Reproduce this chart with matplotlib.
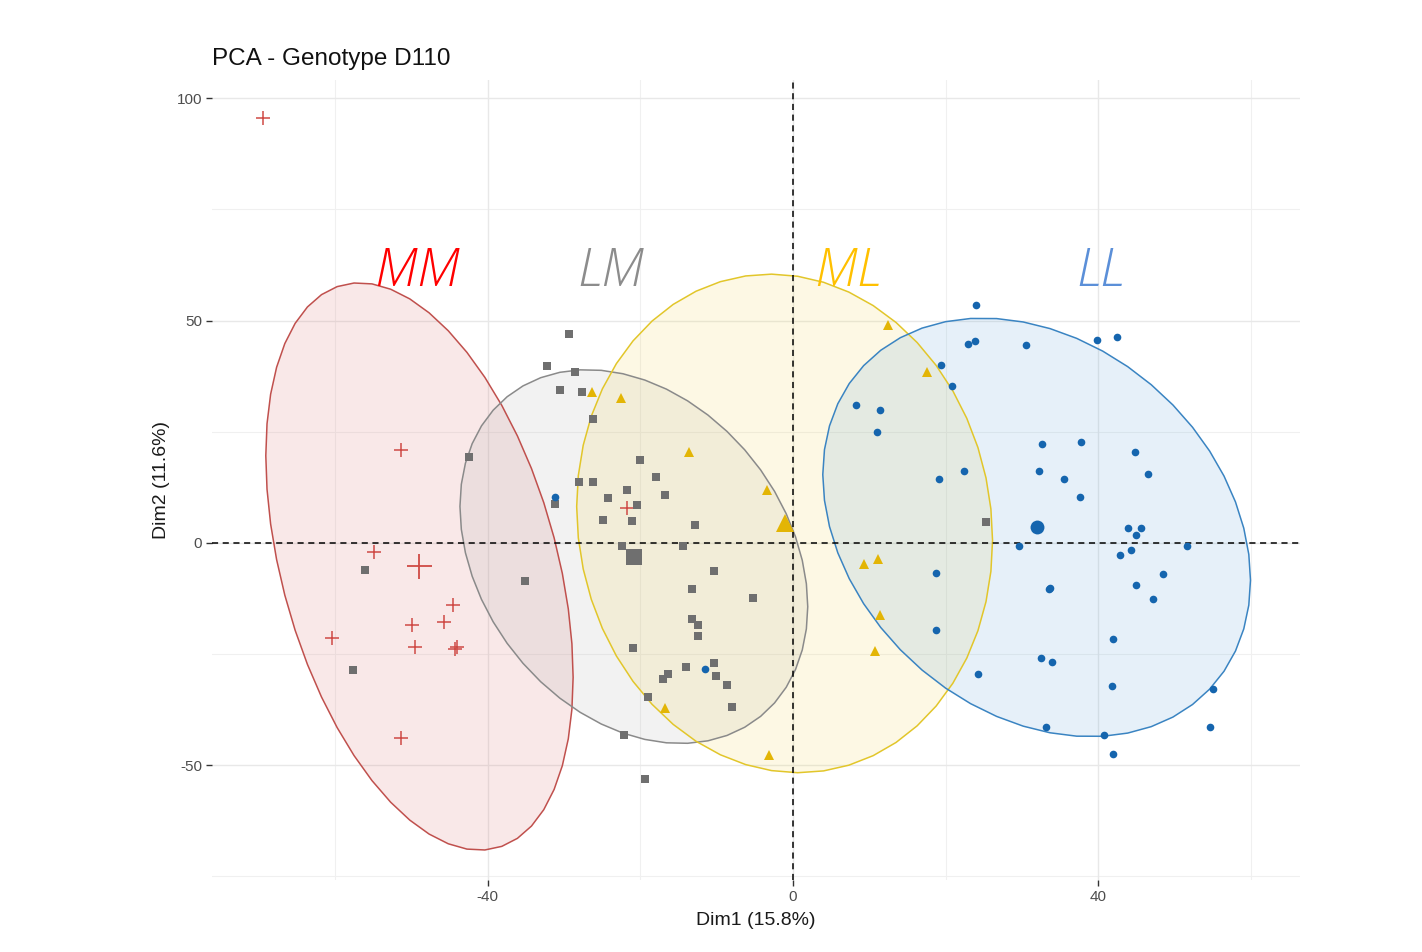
import numpy as np
import matplotlib
matplotlib.use("Agg")
import matplotlib.pyplot as plt
from matplotlib.patches import Polygon

# ---------------- data ----------------
groups = ["MM", "LM", "ML", "LL"]

mm_x = [-69.5, -51.4, -54.9, -44.6, -50.0, -45.7, -60.4, -49.5, -44.0, -44.3, -51.4, -21.8]
mm_y = [95.6, 20.9, -2.0, -13.9, -18.4, -17.8, -21.4, -23.3, -23.5, -23.9, -43.8, 7.9]

lm_x = [-42.5, -56.1, -57.7, -29.4, -32.3, -28.6, -30.5, -27.7, -26.2, -28.1, -26.2, -31.2,
        -24.2, -21.8, -20.4, -24.9, -21.1, -20.0, -18.0, -16.8, -12.9, -22.4, -14.4, -10.3,
        -13.2, -5.3, -13.2, -12.4, -12.4, -21.0, -14.0, -10.3, -10.1, -16.4, -17.1, -8.7,
        -19.0, -8.0, -22.1, -19.4, -35.1, 25.3]
lm_y = [19.4, -6.1, -28.6, 47.0, 39.7, 38.4, 34.4, 34.0, 27.8, 13.6, 13.7, 8.8,
        10.1, 11.8, 8.5, 5.2, 4.9, 18.6, 14.9, 10.7, 4.0, -0.8, -0.8, -6.4,
        -10.4, -12.4, -17.1, -18.5, -21.0, -23.7, -27.8, -27.0, -29.9, -29.5, -30.7, -31.9,
        -34.6, -37.0, -43.2, -53.2, -8.5, 4.7]

ml_x = [-26.3, -22.5, -13.6, -3.4, -16.8, -3.2, 12.4, 17.5, 9.3, 11.2, 11.4, 10.8]
ml_y = [34.0, 32.5, 20.4, 11.9, -37.1, -47.7, 49.0, 38.5, -4.7, -3.7, -16.2, -24.3]

ll_x = [24.0, 22.9, 23.8, 30.5, 19.4, 20.9, 8.2, 11.4, 11.0, 22.4, 19.2, 29.6, 18.7, 18.8,
        24.2, 39.9, 42.4, 32.6, 37.8, 44.8, 32.3, 46.5, 35.5, 37.6, 43.9, 45.6, 45.0, 51.7,
        44.3, 42.9, 48.5, 33.5, 33.7, 45.0, 47.2, 42.0, 32.5, 34.0, 41.8, 55.0, 33.2, 40.8,
        54.6, 42.0, -31.2, -11.5]
ll_y = [53.6, 44.7, 45.4, 44.5, 39.9, 35.3, 31.0, 29.8, 25.0, 16.2, 14.3, -0.8, -6.7, -19.5,
        -29.5, 45.6, 46.3, 22.3, 22.8, 20.4, 16.2, 15.6, 14.3, 10.3, 3.4, 3.4, 1.8, -0.6,
        -1.5, -2.8, -7.0, -10.3, -10.1, -9.4, -12.7, -21.6, -25.8, -26.8, -32.2, -32.8, -41.4, -43.2,
        -41.3, -47.4, 10.4, -28.3]

x_ticks = [-40, 0, 40]
y_ticks = [-50, 0, 50, 100]
title = "PCA - Genotype D110"
x_label = "Dim1 (15.8%)"
y_label = "Dim2 (11.6%)"
ellipse_level = 0.75

# ---------------- styles ----------------
point_colors = {"MM": "#CF4A45", "LM": "#6F6F6F", "ML": "#E3B505", "LL": "#1565AE"}
edge_colors = {"MM": "#C0504D", "LM": "#8A8A8A", "ML": "#E2C62A", "LL": "#3A84C2"}
fill_colors = {"MM": "#D96A6A", "LM": "#A8A8A8", "ML": "#F3D44A", "LL": "#5AA0DA"}
label_colors = {"MM": "#FF0000", "LM": "#8C8C8C", "ML": "#FFC000", "LL": "#5B8FD8"}
markers = {"MM": "+", "LM": "s", "ML": "^", "LL": "o"}
msize = {"MM": 10, "LM": 6, "ML": 6.5, "LL": 5.5}
csize = {"MM": 18, "LM": 11, "ML": 12.5, "LL": 10}
label_pos = {"MM": (-49.2, 61.0), "LM": (-23.9, 61.0), "ML": (7.2, 61.0), "LL": (40.3, 61.0)}

data = {"MM": (mm_x, mm_y), "LM": (lm_x, lm_y), "ML": (ml_x, ml_y), "LL": (ll_x, ll_y)}


def norm_ellipse(x, y, level=0.95, segments=51):
    x = np.asarray(x, float)
    y = np.asarray(y, float)
    n = len(x)
    dfd = n - 1
    center = np.array([x.mean(), y.mean()])
    cov = np.cov(np.vstack([x, y]))
    chol = np.linalg.cholesky(cov).T
    qf = (dfd / 2.0) * ((1 - level) ** (-2.0 / dfd) - 1)
    radius = np.sqrt(2 * qf)
    t = np.linspace(0, 2 * np.pi, segments)
    unit = np.column_stack([np.cos(t), np.sin(t)])
    return center + radius * unit @ chol


fig = plt.figure(figsize=(14.22, 9.52), dpi=100)
ax = fig.add_axes([212 / 1422, 1 - 880 / 952, (1300 - 212) / 1422, (880 - 80) / 952])

ax.set_xlim(-76.15, 66.45)
ax.set_ylim(-75.8, 104.1)

# grid
for v in [-60, -20, 20, 60]:
    ax.axvline(v, color="#F0F0F0", lw=0.8, zorder=0)
for v in [-75, -25, 25, 75]:
    ax.axhline(v, color="#F0F0F0", lw=0.8, zorder=0)
for v in x_ticks:
    ax.axvline(v, color="#E8E8E8", lw=1.0, zorder=0)
for v in y_ticks:
    ax.axhline(v, color="#E8E8E8", lw=1.0, zorder=0)

# ellipses
for g in groups:
    x, y = data[g]
    pts = norm_ellipse(x, y, level=ellipse_level)
    ax.add_patch(Polygon(pts, closed=True, facecolor=fill_colors[g], alpha=0.15,
                         edgecolor="none", zorder=1))
    ax.add_patch(Polygon(pts, closed=True, facecolor="none", edgecolor=edge_colors[g],
                         lw=1.1, zorder=2))

ax.axhline(0, color="black", lw=1.1, ls=(0, (4, 3)), zorder=3)
ax.axvline(0, color="black", lw=1.1, ls=(0, (4, 3)), zorder=3)

# points and centroids
for g in groups:
    x, y = data[g]
    if markers[g] == "+":
        ax.plot(x, y, ls="none", marker="+", ms=msize[g], mew=1.1, color=point_colors[g], zorder=4)
        ax.plot([np.mean(x)], [np.mean(y)], ls="none", marker="+", ms=csize[g], mew=1.3,
                color=point_colors[g], zorder=4)
    else:
        ax.plot(x, y, ls="none", marker=markers[g], ms=msize[g], mew=0, color=point_colors[g], zorder=4)
        ax.plot([np.mean(x)], [np.mean(y)], ls="none", marker=markers[g], ms=csize[g], mew=0,
                color=point_colors[g], zorder=4)

# group labels
for g in groups:
    ax.text(*label_pos[g], g, color=label_colors[g], fontsize=38, fontstyle="italic",
            fontweight="light", family="Open Sans", ha="center", va="center", zorder=5)

for s in ax.spines.values():
    s.set_visible(False)
ax.set_xticks(x_ticks)
ax.set_yticks(y_ticks)
ax.set_xticklabels([str(v) for v in x_ticks])
ax.set_yticklabels([str(v) for v in y_ticks])
ax.tick_params(axis="both", length=4, width=1.0, color="#333333", labelcolor="#4D4D4D",
               labelsize=11, pad=3)
for lbl in ax.get_xticklabels() + ax.get_yticklabels():
    lbl.set_family("Liberation Sans")

ax.set_xlabel(x_label, fontsize=14, family="Liberation Sans", color="#1A1A1A", labelpad=6)
ax.set_ylabel(y_label, fontsize=14, family="Liberation Sans", color="#1A1A1A", labelpad=5)
fig.text(212 / 1422, 1 - 59 / 952, title, fontsize=17.5, family="Liberation Sans",
         color="#111111", ha="left", va="center")

fig.savefig("out.png", dpi=100, facecolor="white")
